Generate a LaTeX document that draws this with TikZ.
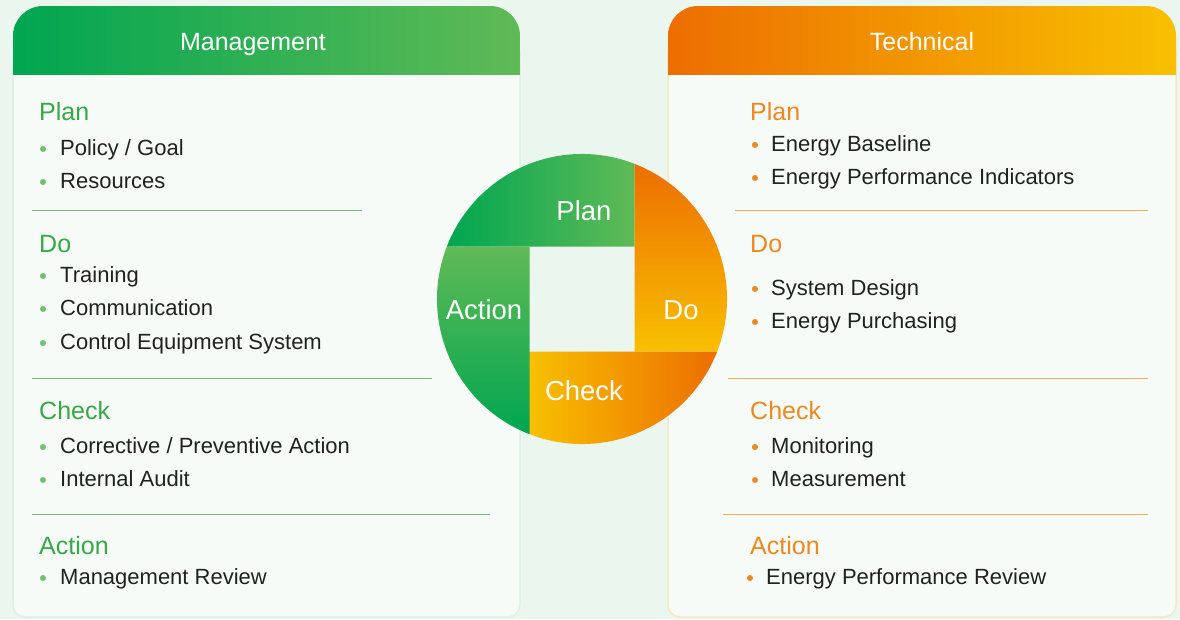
\documentclass[tikz,border=0pt]{standalone}
\usepackage{fontspec}
\setmainfont{Liberation Sans}
\usetikzlibrary{positioning}

\definecolor{bgmint}{RGB}{234,246,238}
\definecolor{panelwhite}{RGB}{247,251,248}
\definecolor{rimgreen}{RGB}{222,240,226}
\definecolor{rimorange}{RGB}{244,232,196}
\definecolor{gdark}{RGB}{0,166,81}
\definecolor{glight}{RGB}{96,186,86}
\definecolor{odark}{RGB}{236,110,0}
\definecolor{olight}{RGB}{248,192,0}
\definecolor{mgreen}{RGB}{55,168,70}
\definecolor{morange}{RGB}{238,136,30}
\definecolor{linegreen}{RGB}{112,192,112}
\definecolor{lineorange}{RGB}{242,172,80}
\definecolor{itemtext}{RGB}{33,33,33}

\tikzset{
  headtitle/.style={text=white, font=\fontsize{25}{30}\selectfont, anchor=base},
  phase/.style={font=\fontsize{25}{30}\selectfont, anchor=base west, inner sep=0pt},
  entry/.style={text=itemtext, font=\fontsize{22}{26}\selectfont, anchor=base west, inner sep=0pt},
  wheel/.style={text=white, font=\fontsize{27.5}{32}\selectfont, anchor=base},
  divider/.style={line width=1pt},
}

\begin{document}
\begin{tikzpicture}[x=1pt, y=-1pt]
    \useasboundingbox (0,0) rectangle (1180,619);
    \fill[bgmint] (0,0) rectangle (1180,619);

    % pannelli
    \filldraw[fill=panelwhite, draw=rimgreen, line width=1.5pt, rounded corners=12] (13,40) rectangle (520,617);
    \filldraw[fill=panelwhite, draw=rimorange, line width=1.5pt, rounded corners=12] (668,40) rectangle (1176,617);
    \begin{scope}
        \clip (0,0) rectangle (1180,74);
        \shade[left color=gdark, middle color=gdark, right color=glight, rounded corners=30] (13,6) rectangle (520,150);
        \shade[left color=odark, right color=olight, rounded corners=30] (668,6) rectangle (1176,150);
    \end{scope}
    \node[headtitle] (mgmt) at (253,50) {Management};
    \node[headtitle] (tech) at (922,50) {Technical};

    % colonna sinistra
    \node[phase, text=mgreen] (mplan) at (39,120) {Plan};
    \fill[linegreen] (43,149) circle (3);
    \node[entry] (m1) at (60,155) {Policy / Goal};
    \fill[linegreen] (43,182) circle (3);
    \node[entry] (m2) at (60,188) {Resources};
    \draw[linegreen, divider] (32,210) -- (362,210);
    \node[phase, text=mgreen] (mdo) at (39,252) {Do};
    \fill[linegreen] (43,276) circle (3);
    \node[entry] (m3) at (60,282) {Training};
    \fill[linegreen] (43,309) circle (3);
    \node[entry] (m4) at (60,315) {Communication};
    \fill[linegreen] (43,343) circle (3);
    \node[entry] (m5) at (60,349) {Control Equipment System};
    \draw[linegreen, divider] (32,378) -- (432,378);
    \node[phase, text=mgreen] (mcheck) at (39,419) {Check};
    \fill[linegreen] (43,447) circle (3);
    \node[entry] (m6) at (60,453) {Corrective / Preventive Action};
    \fill[linegreen] (43,480) circle (3);
    \node[entry] (m7) at (60,486) {Internal Audit};
    \draw[linegreen, divider] (32,514) -- (490,514);
    \node[phase, text=mgreen] (maction) at (39,554) {Action};
    \fill[linegreen] (43,578) circle (3);
    \node[entry] (m8) at (60,584) {Management Review};

    % colonna destra
    \node[phase, text=morange] (tplan) at (750,120) {Plan};
    \fill[morange] (755,145) circle (3);
    \node[entry] (t1) at (771,151) {Energy Baseline};
    \fill[morange] (755,178) circle (3);
    \node[entry] (t2) at (771,184) {Energy Performance Indicators};
    \draw[lineorange, divider] (735,210) -- (1148,210);
    \node[phase, text=morange] (tdo) at (750,252) {Do};
    \fill[morange] (755,289) circle (3);
    \node[entry] (t3) at (771,295) {System Design};
    \fill[morange] (755,322) circle (3);
    \node[entry] (t4) at (771,328) {Energy Purchasing};
    \draw[lineorange, divider] (728,378) -- (1148,378);
    \node[phase, text=morange] (tcheck) at (750,419) {Check};
    \fill[morange] (755,447) circle (3);
    \node[entry] (t5) at (771,453) {Monitoring};
    \fill[morange] (755,480) circle (3);
    \node[entry] (t6) at (771,486) {Measurement};
    \draw[lineorange, divider] (723,514) -- (1148,514);
    \node[phase, text=morange] (taction) at (750,554) {Action};
    \fill[morange] (750,578) circle (3);
    \node[entry] (t7) at (766,584) {Energy Performance Review};

    % ruota PDCA
    \shade[left color=gdark, middle color=gdark, right color=glight] (446.84,246.5) -- (634.5,246.5) -- (634.5,163.84) arc[start angle=-68.77, end angle=-158.77, radius=145] -- cycle;
    \shade[top color=odark, bottom color=olight] (634.5,163.84) -- (634.5,351.5) -- (717.16,351.5) arc[start angle=21.23, end angle=-68.77, radius=145] -- cycle;
    \shade[left color=olight, right color=odark] (529.5,434.16) -- (529.5,351.5) -- (717.16,351.5) arc[start angle=21.23, end angle=111.23, radius=145] -- cycle;
    \shade[top color=glight, middle color=gdark, bottom color=gdark] (446.84,246.5) -- (529.5,246.5) -- (529.5,434.16) arc[start angle=111.23, end angle=201.23, radius=145] -- cycle;
    \node[wheel] (wplan) at (584,220) {Plan};
    \node[wheel] (wdo) at (681,319) {Do};
    \node[wheel] (wcheck) at (584,400) {Check};
    \node[wheel] (waction) at (484,319) {Action};
\end{tikzpicture}
\end{document}
